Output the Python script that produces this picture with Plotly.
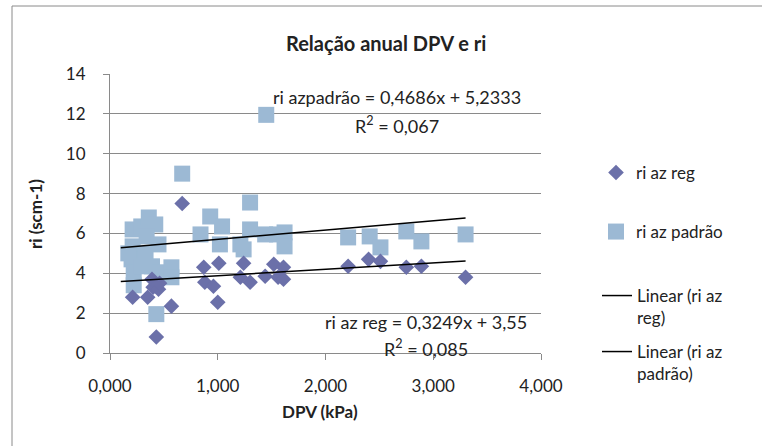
import plotly.graph_objects as go

# ---- data ----
reg_x = [0.21, 0.35, 0.40, 0.39, 0.45, 0.46, 0.43, 0.57, 0.67, 0.87, 0.88, 0.96, 1.01, 1.00,
         1.24, 1.21, 1.30, 1.44, 1.52, 1.56, 1.61, 1.61, 2.21, 2.40, 2.51, 2.75, 2.89, 3.30]
reg_y = [2.8, 2.8, 3.3, 3.7, 3.2, 3.5, 0.8, 2.35, 7.5, 4.3, 3.55, 3.35, 4.5, 2.55,
         4.5, 3.8, 3.55, 3.85, 4.45, 3.8, 4.3, 3.7, 4.35, 4.7, 4.6, 4.3, 4.35, 3.8]

pad_x = [0.21, 0.21, 0.20, 0.22, 0.22, 0.17, 0.29, 0.36, 0.42, 0.34, 0.45, 0.33, 0.29, 0.39,
         0.46, 0.57, 0.57, 0.43, 0.67, 0.93, 1.04, 0.84, 1.02, 1.30, 1.30, 1.21, 1.24, 1.44,
         1.45, 1.55, 1.62, 1.62, 2.21, 2.41, 2.51, 2.75, 2.89, 3.30]
pad_y = [6.2, 5.35, 4.7, 4.05, 3.4, 5.0, 6.35, 6.8, 6.45, 5.85, 5.45, 5.0, 4.35, 4.35,
         4.05, 4.3, 3.8, 1.95, 9.0, 6.85, 6.35, 5.95, 5.45, 7.55, 6.2, 5.45, 5.2, 5.95,
         11.95, 5.95, 6.05, 5.35, 5.8, 5.85, 5.3, 6.1, 5.6, 5.95]

trend_range = [0.10, 3.30]
reg_coef = (0.3249, 3.55)
pad_coef = (0.4686, 5.2333)

names = ["ri az reg", "ri az padrão", "Linear (ri az<br>reg)", "Linear (ri az<br>padrão)"]
eq_reg = ["ri az reg = 0,3249x + 3,55", "R<sup>2</sup> = 0,085"]
eq_pad = ["ri azpadrão = 0,4686x + 5,2333", "R<sup>2</sup> = 0,067"]

title = "Relação anual DPV e ri"
x_title = "DPV (kPa)"
y_title = "ri (scm-1)"

FONT = "Lato, 'Open Sans', sans-serif"
TXT = "#222222"
GRID = "#8a8a8a"

# ---- figure geometry (pixels) ----
W, H = 762, 446
L, R, T, B = 110, 762 - 541, 74, 446 - 353
pw, ph = W - L - R, H - T - B


def px_x(p):
    return (p - L) / pw


def px_y(p):
    return (H - B - p) / ph


fig = go.Figure()

fig.add_trace(go.Scatter(
    x=pad_x, y=pad_y, mode="markers", name=names[1], legend="legend2",
    marker=dict(symbol="square", size=16, color="#9CB9D4", line=dict(width=0))))
fig.add_trace(go.Scatter(
    x=reg_x, y=reg_y, mode="markers", name=names[0], legend="legend",
    marker=dict(symbol="diamond", size=12, color="#6B70A9", line=dict(width=0))))

tx = trend_range
fig.add_trace(go.Scatter(
    x=tx, y=[reg_coef[0] * v + reg_coef[1] for v in tx], mode="lines", name=names[2],
    legend="legend3", line=dict(color="black", width=1.5)))
fig.add_trace(go.Scatter(
    x=tx, y=[pad_coef[0] * v + pad_coef[1] for v in tx], mode="lines", name=names[3],
    legend="legend4", line=dict(color="black", width=1.5)))

legend_common = dict(font=dict(family=FONT, size=17, color=TXT), bgcolor="rgba(0,0,0,0)",
                     xanchor="left", yanchor="middle", valign="top", borderwidth=0,
                     itemclick=False)

layout_legends = {
    "legend": dict(x=px_x(596), y=px_y(173), **legend_common),
    "legend2": dict(x=px_x(596), y=px_y(232), **legend_common),
    "legend3": dict(x=px_x(597), y=px_y(307), **legend_common),
    "legend4": dict(x=px_x(597), y=px_y(363), **legend_common),
}

fig.update_layout(
    width=W, height=H,
    margin=dict(l=L, r=R, t=T, b=B, autoexpand=False),
    paper_bgcolor="white", plot_bgcolor="white",
    separators=",.",
    font=dict(family=FONT, size=17, color=TXT),
    showlegend=True,
    **layout_legends,
)

fig.update_xaxes(
    range=[0, 4], dtick=1, tickformat=".3f", showgrid=False, zeroline=False,
    showline=True, linecolor=GRID, linewidth=1, ticks="outside", ticklen=6,
    tickcolor=GRID, tickfont=dict(family=FONT, size=17, color=TXT), ticklabelstandoff=12,
)
fig.update_yaxes(
    range=[0, 14], dtick=2, showgrid=True, gridcolor=GRID, gridwidth=1, zeroline=False,
    showline=True, linecolor=GRID, linewidth=1, ticks="outside", ticklen=6,
    tickcolor=GRID, tickfont=dict(family=FONT, size=17, color=TXT), ticklabelstandoff=14,
)

ann = []
ann.append(dict(text="<b>" + title + "</b>", x=px_x(386), y=px_y(43), xref="paper", yref="paper",
                showarrow=False, font=dict(family=FONT, size=20, color=TXT),
                xanchor="center", yanchor="middle"))
ann.append(dict(text="<b>" + x_title + "</b>", x=px_x(320), y=px_y(411), xref="paper", yref="paper",
                showarrow=False, font=dict(family=FONT, size=17, color=TXT),
                xanchor="center", yanchor="middle"))
ann.append(dict(text="<b>" + y_title + "</b>", x=px_x(35), y=px_y(214), xref="paper", yref="paper",
                showarrow=False, textangle=-90, font=dict(family=FONT, size=17, color=TXT),
                xanchor="center", yanchor="middle"))
# trendline equations
for txt, cx, cy in [(eq_pad[0], 397, 97), (eq_pad[1], 397, 125),
                    (eq_reg[0], 426, 322), (eq_reg[1], 426, 348)]:
    ann.append(dict(text=txt, x=px_x(cx), y=px_y(cy), xref="paper", yref="paper",
                    showarrow=False, font=dict(family=FONT, size=18, color=TXT),
                    xanchor="center", yanchor="middle"))
fig.update_layout(annotations=ann)

# outer chart border
fig.add_shape(type="rect", xref="paper", yref="paper",
              x0=px_x(12), x1=px_x(800), y0=px_y(480), y1=px_y(6),
              line=dict(color="#8a8a8a", width=1), fillcolor="rgba(0,0,0,0)", layer="below")

fig.write_html("out.html")
